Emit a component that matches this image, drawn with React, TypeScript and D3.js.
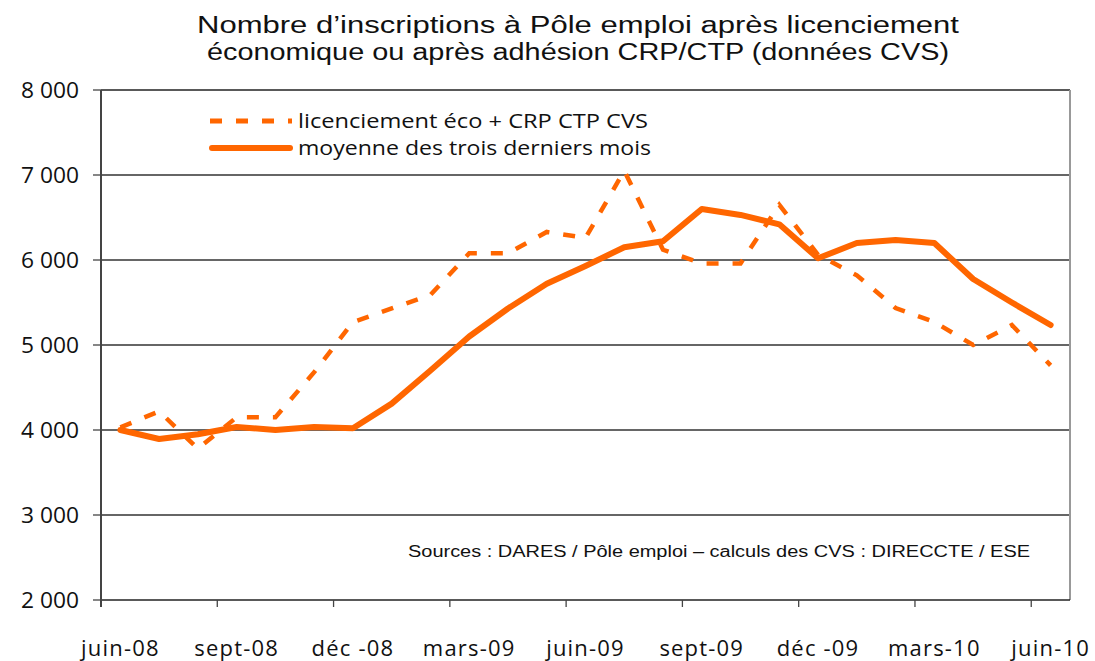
import React from "react";
import * as d3 from "d3";

const months = [
  "juin-08","juil-08","août-08","sept-08","oct-08","nov-08","déc-08","janv-09","févr-09",
  "mars-09","avr-09","mai-09","juin-09","juil-09","août-09","sept-09","oct-09","nov-09",
  "déc-09","janv-10","févr-10","mars-10","avr-10","mai-10","juin-10",
];
const licenciement = [
  4030, 4220, 3780, 4150, 4150, 4680, 5270, 5430, 5590, 6080, 6080, 6330, 6260,
  7050, 6120, 5960, 5960, 6650, 6060, 5820, 5435, 5270, 5000, 5235, 4760,
];
const moyenne = [
  4000, 3894, 3950, 4035, 4000, 4035, 4020, 4310, 4700, 5100, 5430, 5720, 5930,
  6150, 6220, 6600, 6530, 6420, 6020, 6200, 6235, 6200, 5776, 5500, 5235,
];
const yTicks = [2000, 3000, 4000, 5000, 6000, 7000, 8000];
const labelIdx = [0, 3, 6, 9, 12, 15, 18, 21, 24];
const titleLines = [
  "Nombre d’inscriptions à Pôle emploi après licenciement",
  "économique ou après adhésion CRP/CTP (données CVS)",
];
const legendLabels = ["licenciement éco + CRP CTP CVS", "moyenne des trois derniers mois"];
const sourceText = "Sources : DARES / Pôle emploi – calculs des CVS : DIRECCTE / ESE";

export default function App() {
  const W = 1095, H = 661;
  const left = 101, right = 1070, top = 90, bottom = 600;
  const x = d3.scaleBand<string>().domain(months).range([left, right]);
  const cx = (i: number) => (x(months[i]) as number) + x.bandwidth() / 2;
  const y = d3.scaleLinear().domain([2000, 8000]).range([bottom, top]);
  const line = d3.line<number>().x((_, i) => cx(i)).y((v) => y(v));
  const orange = "#FF6600";
  const tickBoundaries = d3.range(0, months.length + 1, 3).filter((i) => i <= 24);

  return (
    <svg width={W} height={H} style={{ position: "absolute", left: 0, top: 0, background: "#fff" }}>
      <rect x={0} y={0} width={W} height={H} fill="#fff" />
      {titleLines.map((t, i) => (
        <text key={i} x={578} y={33 + i * 27} textAnchor="middle" fontFamily="'Liberation Sans', Arial, sans-serif"
          fontSize={23} fill="#111" textLength={i === 0 ? 762 : 742} lengthAdjust="spacingAndGlyphs">
          {t}
        </text>
      ))}
      {yTicks.map((v) => (
        <g key={v}>
          {v > 2000 && (
            <line x1={left} x2={right} y1={y(v)} y2={y(v)} stroke={v === 8000 ? "#222" : "#333"} strokeWidth={1.3} />
          )}
          <line x1={93} x2={left} y1={y(v)} y2={y(v)} stroke="#444" strokeWidth={1.3} />
          <text x={79} y={y(v) + 8} textAnchor="end" fontFamily="'Open Sans', sans-serif" fontSize={21} fill="#111"
            textLength={58} lengthAdjust="spacingAndGlyphs">
            {d3.format(",")(v).replace(",", " ")}
          </text>
        </g>
      ))}
      <line x1={right} x2={right} y1={top} y2={bottom} stroke="#999" strokeWidth={2} />
      <line x1={left} x2={right} y1={bottom} y2={bottom} stroke="#222" strokeWidth={1.3} />
      <line x1={left} x2={left} y1={top} y2={bottom + 7} stroke="#444" strokeWidth={2} />
      {tickBoundaries.map((i) => {
        const bx = (x(months[i]) as number);
        return <line key={i} x1={bx} x2={bx} y1={bottom} y2={bottom + 7} stroke="#444" strokeWidth={1.3} />;
      })}
      {labelIdx.map((i) => (
        <text key={i} x={cx(i)} y={656} textAnchor="middle" fontFamily="'Open Sans', sans-serif" fontSize={22}
          letterSpacing={1.2} fill="#111">
          {months[i].replace("déc-", "déc -")}
        </text>
      ))}
      <path d={line(licenciement) as string} fill="none" stroke={orange} strokeWidth={4.5} strokeDasharray="12 14" />
      <path d={line(moyenne) as string} fill="none" stroke={orange} strokeWidth={6} strokeLinejoin="round" strokeLinecap="round" />
      <line x1={210} x2={292} y1={121} y2={121} stroke={orange} strokeWidth={5} strokeDasharray="12 14" />
      <line x1={212} x2={290} y1={148} y2={148} stroke={orange} strokeWidth={6} strokeLinecap="round" />
      <text x={298} y={128} fontFamily="'Open Sans', sans-serif" fontSize={20} fill="#111" textLength={350} lengthAdjust="spacingAndGlyphs">
        {legendLabels[0]}
      </text>
      <text x={298} y={155} fontFamily="'Open Sans', sans-serif" fontSize={20} fill="#111" textLength={353} lengthAdjust="spacingAndGlyphs">
        {legendLabels[1]}
      </text>
      <text x={408} y={557} fontFamily="'Liberation Sans', Arial, sans-serif" fontSize={16} fill="#111" textLength={622} lengthAdjust="spacingAndGlyphs">
        {sourceText}
      </text>
    </svg>
  );
}
